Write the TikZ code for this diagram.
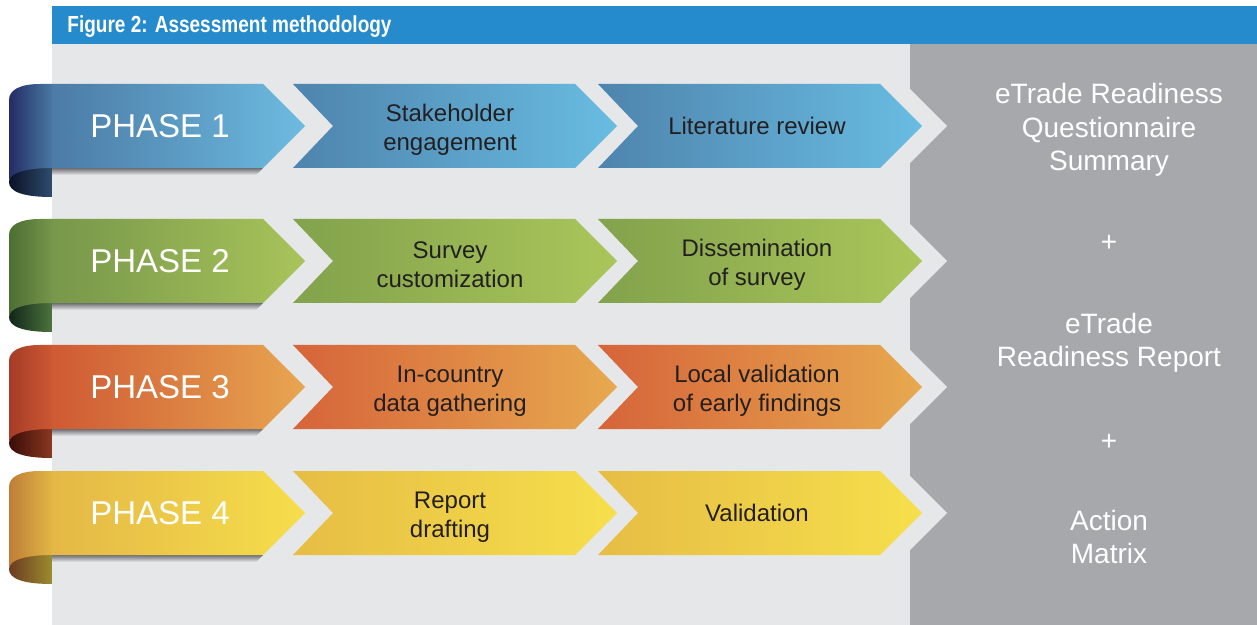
\documentclass[tikz,border=0pt]{standalone}
\usepackage{fontspec}
\setmainfont{Liberation Sans}
\newfontfamily\titlefont{Liberation Sans}[FakeStretch=0.82]
\definecolor{hdr}{HTML}{258BCD}
\definecolor{panel}{HTML}{E6E7E8}
\definecolor{outp}{HTML}{A7A8AB}
\definecolor{shadowc}{HTML}{6E6E75}
\definecolor{txtc}{HTML}{231F20}
% row 1 blue
\definecolor{bandL1}{HTML}{4B7BA6}\definecolor{bandR1}{HTML}{6DBBE0}
\definecolor{curlA1}{HTML}{232C66}\definecolor{curlB1}{HTML}{4A79A3}
\definecolor{backA1}{HTML}{0A1125}\definecolor{backB1}{HTML}{2E4C6E}
\definecolor{arrL1}{HTML}{4E84AD}\definecolor{arrR1}{HTML}{69BCE2}
% row 2 green
\definecolor{bandL2}{HTML}{77974A}\definecolor{bandR2}{HTML}{A9C45A}
\definecolor{curlA2}{HTML}{4C6E33}\definecolor{curlB2}{HTML}{76964A}
\definecolor{backA2}{HTML}{10261A}\definecolor{backB2}{HTML}{4E743C}
\definecolor{arrL2}{HTML}{82A24C}\definecolor{arrR2}{HTML}{AAC65A}
% row 3 orange
\definecolor{bandL3}{HTML}{CF5A34}\definecolor{bandR3}{HTML}{E8A650}
\definecolor{curlA3}{HTML}{A53C26}\definecolor{curlB3}{HTML}{CC5833}
\definecolor{backA3}{HTML}{3A0C08}\definecolor{backB3}{HTML}{8A3820}
\definecolor{arrL3}{HTML}{D6643A}\definecolor{arrR3}{HTML}{E7A94F}
% row 4 yellow
\definecolor{bandL4}{HTML}{E4B846}\definecolor{bandR4}{HTML}{F6DE4B}
\definecolor{curlA4}{HTML}{BE7E38}\definecolor{curlB4}{HTML}{E2B646}
\definecolor{backA4}{HTML}{6B3B1F}\definecolor{backB4}{HTML}{9C8C30}
\definecolor{arrL4}{HTML}{E6BD44}\definecolor{arrR4}{HTML}{F6DF4C}
\tikzset{
  titletxt/.style={text=white,font=\titlefont\bfseries\fontsize{11.6}{13}\selectfont,inner sep=0pt},
  phasetxt/.style={text=white,font=\fontsize{16.5}{20}\selectfont,inner sep=0pt},
  steptxt/.style={text=txtc,font=\fontsize{12}{14.5}\selectfont,align=center,inner sep=0pt},
  outtxt/.style={text=white,font=\fontsize{14}{16.75}\selectfont,align=center,inner sep=0pt},
}
\begin{document}
\begin{tikzpicture}[x=0.5pt,y=-0.5pt]
\useasboundingbox (0,0) rectangle (1257,625);
\fill[white] (0,0) rectangle (1257,625);
% header
\fill[hdr] (52,6) rectangle (1257,44);
\node[titletxt,anchor=base west] (title) at (67,33) {Figure 2: Assessment methodology};
% panels
\fill[panel] (52,44) rectangle (910,625);
\fill[outp] (910,44) rectangle (1257,625);
\foreach \c in {126,261,387,513}{
  \fill[panel] (909,\c-38) -- (947,\c) -- (909,\c+38) -- cycle;
}
% ribbons and chevrons
\foreach \c/\k/\ta/\da/\tb/\db in {
  126/1/{Stakeholder\\engagement}/4/{Literature review}/0,
  261/2/{Survey\\customization}/4/{Dissemination\\of survey}/4,
  387/3/{In-country\\data gathering}/4/{Local validation\\of early findings}/4,
  513/4/{Report\\drafting}/4/{Validation}/0}{
  % shadow
  \shade[top color=shadowc,bottom color=panel] (51,\c+42) -- (263,\c+42) -- (256,\c+49) -- (51,\c+49) -- cycle;
  % back of curl
  \shade[left color=backA\k,right color=backB\k]
    (52,\c+40) .. controls (22,\c+40) and (9,\c+47) .. (9,\c+56)
    .. controls (9,\c+66) and (24,\c+71) .. (52,\c+71) -- cycle;
  % front of curl
  \shade[left color=curlA\k,right color=curlB\k]
    (52.5,\c-42) -- (40,\c-42) .. controls (20,\c-42) and (9,\c-36) .. (9,\c-26)
    -- (9,\c+56) .. controls (9,\c+48) and (22,\c+42) .. (52.5,\c+42) -- cycle;
  % main band
  \shade[left color=bandL\k,right color=bandR\k]
    (52,\c-42) -- (263,\c-42) -- (305,\c) -- (263,\c+42) -- (52,\c+42) -- cycle;
  \node[phasetxt] (ph\k) at (160,\c) {PHASE \k};
  % chevron 2
  \shade[left color=arrL\k,right color=arrR\k]
    (293,\c-42) -- (575,\c-42) -- (617,\c) -- (575,\c+42) -- (293,\c+42) -- (333,\c) -- cycle;
  \node[steptxt] (sa\k) at (450,\c+\da) {\ta};
  % chevron 3
  \shade[left color=arrL\k,right color=arrR\k]
    (598,\c-42) -- (880,\c-42) -- (922,\c) -- (880,\c+42) -- (598,\c+42) -- (638,\c) -- cycle;
  \node[steptxt] (sb\k) at (757,\c+\db) {\tb};
}
% outputs
\node[outtxt] (out1) at (1109,130) {eTrade Readiness\\Questionnaire\\Summary};
\node[outtxt] (plus1) at (1109,243) {+};
\node[outtxt] (out2) at (1109,343) {eTrade\\Readiness Report};
\node[outtxt] (plus2) at (1109,442) {+};
\node[outtxt] (out3) at (1109,537) {Action\\Matrix};
\end{tikzpicture}
\end{document}
